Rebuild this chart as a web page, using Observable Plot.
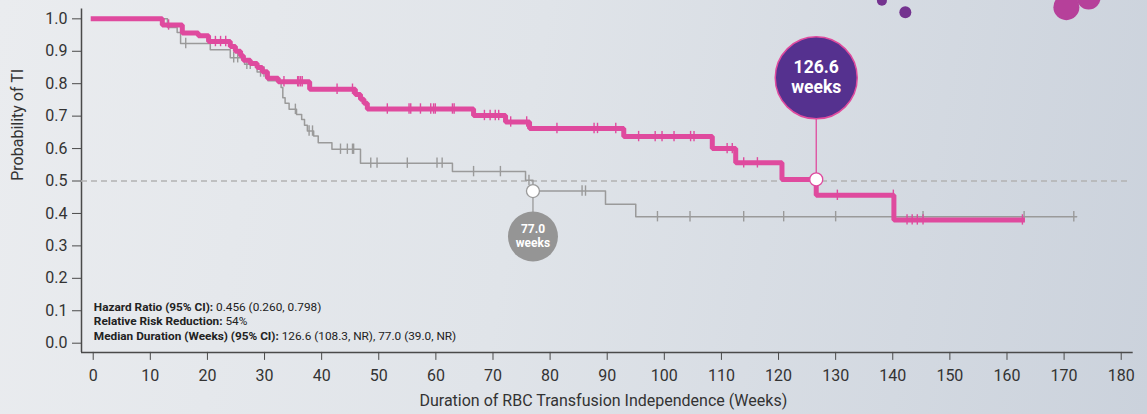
<!DOCTYPE html>
<html>
<head>
<meta charset="utf-8">
<script src="https://cdn.jsdelivr.net/npm/d3@7"></script>
<script src="https://cdn.jsdelivr.net/npm/@observablehq/plot@0.6"></script>
<style>
  html, body { margin: 0; padding: 0; }
  body {
    width: 1147px; height: 414px; overflow: hidden;
    background: linear-gradient(100deg, #eaecef 0%, #e0e4e9 45%, #cbd2dc 100%);
    font-family: Roboto, "Noto Sans", sans-serif;
  }
  #chart svg { display: block; }
</style>
</head>
<body>
<div id="chart"></div>
<script>
// ---------- data ----------
const pinkTime = [0, 12.1, 15.6, 18.4, 20.2, 24.0, 24.9, 25.8, 26.3, 27.5, 28.7, 29.6, 30.5, 32.4, 37.9, 45.9, 46.8, 47.4, 48.0, 66.6, 72.2, 76.4, 92.9, 108.4, 112.5, 120.6, 126.6, 140.2, 162.7];
const pinkSurv = [1.0, 0.981, 0.956, 0.948, 0.93, 0.915, 0.90, 0.886, 0.872, 0.862, 0.85, 0.837, 0.817, 0.806, 0.783, 0.767, 0.752, 0.740, 0.722, 0.702, 0.682, 0.662, 0.637, 0.60, 0.556, 0.505, 0.456, 0.38, 0.38];
const pinkCensor = [13.2, 21.4, 22.3, 23.2, 33.4, 35.8, 36.0, 36.3, 36.6, 42.7, 45.4, 51.5, 55.3, 55.6, 57.3, 59.1, 59.6, 59.9, 62.9, 63.2, 68.5, 69.5, 70.4, 71.0, 73.1, 75.9, 81.2, 87.7, 88.3, 91.5, 95.5, 98.4, 99.6, 101.7, 104.6, 105.2, 111.0, 111.9, 113.9, 116.3, 130.3, 140.1, 142.5, 143.4, 144.3, 145.3, 162.7];

const grayTime = [0, 13.0, 14.7, 15.3, 20.5, 24.0, 26.5, 28.7, 30.6, 32.9, 33.2, 33.6, 34.3, 35.6, 36.5, 37.0, 37.5, 38.6, 39.4, 41.8, 46.8, 62.9, 75.7, 77.0, 89.7, 95.0, 172.2];
const graySurv = [1.0, 0.973, 0.958, 0.924, 0.905, 0.88, 0.86, 0.836, 0.809, 0.788, 0.757, 0.740, 0.721, 0.705, 0.69, 0.672, 0.654, 0.639, 0.618, 0.598, 0.555, 0.529, 0.502, 0.469, 0.428, 0.39, 0.39];
const grayCensor = [16.2, 24.6, 25.3, 26.9, 27.5, 29.3, 29.9, 35.4, 37.8, 38.4, 43.3, 44.5, 45.4, 45.6, 48.6, 49.7, 55.0, 60.2, 61.1, 66.6, 71.3, 76.3, 85.6, 86.2, 98.8, 104.5, 113.9, 120.9, 130.0, 145.3, 163.0, 171.7];

const xTicks = [0, 10, 20, 30, 40, 50, 60, 70, 80, 90, 100, 110, 120, 130, 140, 150, 160, 170, 180];
const yTicks = [0, 0.1, 0.2, 0.3, 0.4, 0.5, 0.6, 0.7, 0.8, 0.9, 1.0];
const xDomain = [-2.05, 182.1];
const yDomain = [-0.0284, 1.03];

// medians: value (weeks), curve level at the median, bubble level, label
const medianWeeks = [126.6, 77.0];
const medianLevel = [0.505, 0.469];
const bubbleLevel = [0.818, 0.329];
const medianLabel = ["126.6\nweeks", "77.0\nweeks"];

// decorative dots (top right)
const decoX = [138.1, 142.2, 170.4, 174.3];
const decoY = [1.056, 1.020, 1.036, 1.066];

const statsLines = [
  ["Hazard Ratio (95% CI):", " 0.456 (0.260, 0.798)"],
  ["Relative Risk Reduction:", " 54%"],
  ["Median Duration (Weeks) (95% CI):", " 126.6 (108.3, NR), 77.0 (39.0, NR)"]
];
const statsY = [0.111, 0.066, 0.021];

// ---------- derived tables ----------
const PINK = "#df4a9e", GRAY = "#9a9a9a", PURPLE = "#55318f", AXIS = "#4a4a4a";
const pink = pinkTime.map((t, i) => ({t, s: pinkSurv[i]}));
const gray = grayTime.map((t, i) => ({t, s: graySurv[i]}));
function survAt(steps, t) {
  let s = steps[0].s;
  for (const d of steps) { if (d.t <= t) s = d.s; else break; }
  return s;
}
const pinkC = pinkCensor.map(t => ({t, s: survAt(pink, t)}));
const grayC = grayCensor.map(t => ({t, s: survAt(gray, t)}));
const meds = medianWeeks.map((m, i) => ({m, lvl: medianLevel[i], b: bubbleLevel[i], label: medianLabel[i]}));
const medP = [meds[0]], medG = [meds[1]];
const deco = decoX.map((x, i) => ({x, y: decoY[i], r: [5, 6, 13, 12][i], c: i < 2 ? "#74338f" : "#b6409a"}));
const tickHalf = 0.016;

const plot = Plot.plot({
  width: 1147, height: 414,
  marginLeft: 81, marginRight: 14.3, marginTop: 8.6, marginBottom: 62.1,
  x: {domain: xDomain},
  y: {domain: yDomain},
  r: {type: "identity"},
  style: {background: "transparent", fontFamily: "Roboto, 'Noto Sans', sans-serif", fontSize: "16px", color: "#333", overflow: "visible"},
  marks: [
    // decorative dots
    Plot.dot(deco, {x: "x", y: "y", r: "r", fill: "c", stroke: "none"}),
    // axes
    Plot.axisY({ticks: yTicks, tickFormat: d3.format(".1f"), tickSize: 9, tickPadding: 5, label: null, stroke: AXIS, fill: "#333"}),
    Plot.axisX({ticks: xTicks, tickFormat: d3.format("d"), tickSize: 8, tickPadding: 9, label: null, stroke: AXIS, fill: "#333"}),
    Plot.ruleX([xDomain[0]], {y1: yDomain[0], y2: yDomain[1], stroke: AXIS, strokeWidth: 1.5}),
    Plot.ruleY([yDomain[0]], {x1: xDomain[0], x2: xDomain[1], stroke: AXIS, strokeWidth: 1.5}),
    Plot.text(["Probability of TI"], {frameAnchor: "left", dx: -64, rotate: -90, fontSize: 16, fill: "#333"}),
    Plot.text(["Duration of RBC Transfusion Independence (Weeks)"], {frameAnchor: "bottom", dx: -4, dy: 54, fontSize: 16, fill: "#333"}),
    // median reference
    Plot.ruleY([0.5], {x1: xDomain[0], x2: 181.3, stroke: "#b3b3b3", strokeWidth: 1.3, strokeDasharray: "6,4"}),
    // gray curve
    Plot.line(gray, {x: "t", y: "s", curve: "step-after", stroke: GRAY, strokeWidth: 1.5}),
    Plot.ruleX(grayC, {x: "t", y1: d => d.s - tickHalf, y2: d => d.s + tickHalf, stroke: GRAY, strokeWidth: 1.4}),
    // pink curve
    Plot.line(pink, {x: "t", y: "s", curve: "step-after", stroke: PINK, strokeWidth: 5, strokeLinejoin: "miter", strokeLinecap: "square"}),
    Plot.ruleX(pinkC, {x: "t", y1: d => d.s - tickHalf, y2: d => d.s + tickHalf, stroke: PINK, strokeWidth: 1.4}),
    // median stems and markers
    Plot.ruleX(medP, {x: "m", y1: "lvl", y2: "b", stroke: PINK, strokeWidth: 1.3}),
    Plot.ruleX(medG, {x: "m", y1: "lvl", y2: "b", stroke: GRAY, strokeWidth: 1.3}),
    Plot.dot(medP, {x: "m", y: "lvl", r: 6.5, fill: "white", stroke: PINK, strokeWidth: 1.3}),
    Plot.dot(medG, {x: "m", y: "lvl", r: 6.5, fill: "white", stroke: GRAY, strokeWidth: 1.3}),
    // bubbles
    Plot.dot(medP, {x: "m", y: "b", r: 41, fill: PURPLE, stroke: PINK, strokeWidth: 1.5}),
    Plot.dot(medG, {x: "m", y: "b", r: 25, fill: "#959595", stroke: "none"}),
    Plot.text(medP, {x: "m", y: "b", text: "label", dy: -1, lineHeight: 1.12, fill: "white", fontWeight: "bold", fontSize: 17.5}),
    Plot.text(medG, {x: "m", y: "b", text: "label", dy: -1, lineHeight: 1.15, fill: "white", fontWeight: "bold", fontSize: 12})
  ]
});
document.getElementById("chart").appendChild(plot);

// stats block with mixed bold / regular text
const sx = plot.scale("x"), sy = plot.scale("y");
const svg = d3.select(plot);
statsLines.forEach((ln, i) => {
  const t = svg.append("text")
    .attr("x", sx.apply(0.2))
    .attr("y", sy.apply(statsY[i]))
    .attr("dy", "0.35em")
    .attr("text-anchor", "start")
    .style("font-size", "11.8px")
    .attr("fill", "#222");
  t.append("tspan").attr("font-weight", "bold").text(ln[0]);
  t.append("tspan").text(ln[1]);
});
</script>
</body>
</html>
